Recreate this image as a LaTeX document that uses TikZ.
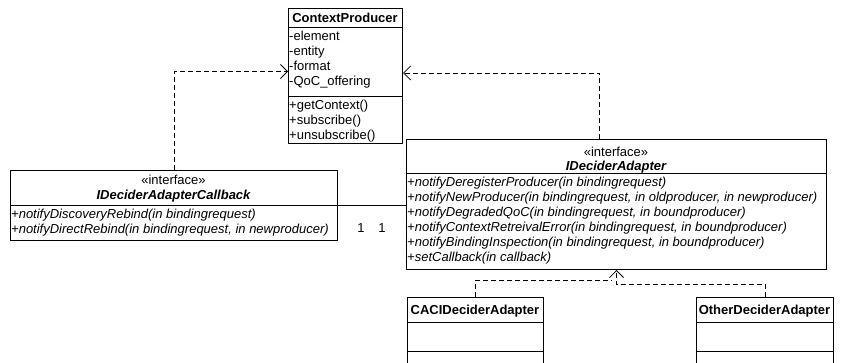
\documentclass[tikz,border=0pt]{standalone}
\usepackage{fontspec}
\setmainfont{Liberation Sans}
\usetikzlibrary{arrows.meta}
\begin{document}
\begin{tikzpicture}[x=1pt,y=1pt,
  box/.style={draw, line width=1pt, inner sep=0pt, anchor=north west},
  sep/.style={line width=1pt},
  fnt/.style={inner sep=0pt, yshift=-4.6pt, font=\fontsize{13}{15}\selectfont},
  txt/.style={fnt, anchor=base west},
  ctr/.style={fnt, anchor=base},
  ttl/.style={ctr, font=\fontsize{13}{15}\selectfont\bfseries},
  ittl/.style={ctr, font=\fontsize{13}{15}\selectfont\bfseries\itshape},
  op/.style={txt, font=\fontsize{13}{15}\selectfont\itshape},
  dep/.style={line width=0.75pt, dash pattern=on 5pt off 3pt, -{Straight Barb[length=7pt,width=14pt,line width=0.75pt]}},
  dsh/.style={line width=0.75pt, dash pattern=on 5pt off 3pt}
]
\useasboundingbox (0,0) rectangle (841,-362);

% ContextProducer
\node[box, minimum width=114pt, minimum height=135pt] (cp) at (288,-8) {};
\draw[sep] (288,-27) -- (402,-27);
\draw[sep] (288,-96) -- (402,-96);
\node[ttl] (cpt) at (345,-17.5) {ContextProducer};
\node[txt] (cpa1) at (289,-36) {-element};
\node[txt] (cpa2) at (289,-51) {-entity};
\node[txt] (cpa3) at (289,-66) {-format};
\node[txt] (cpa4) at (289,-81) {-QoC\_offering};
\node[txt] (cpm1) at (289,-105) {+getContext()};
\node[txt] (cpm2) at (289,-120) {+subscribe()};
\node[txt] (cpm3) at (289,-135) {+unsubscribe()};

% IDeciderAdapterCallback
\node[box, minimum width=327pt, minimum height=70pt] (cb) at (10,-170) {};
\draw[sep] (10,-205) -- (337,-205);
\node[ctr] (cbs) at (173.5,-180) {«interface»};
\node[ittl] (cbt) at (173.5,-194.5) {IDeciderAdapterCallback};
\node[op] (cbo1) at (11,-213.5) {+notifyDiscoveryRebind(in bindingrequest)};
\node[op] (cbo2) at (11,-228.5) {+notifyDirectRebind(in bindingrequest, in newproducer)};

% IDeciderAdapter
\node[box, minimum width=420pt, minimum height=130pt] (ida) at (406,-139) {};
\draw[sep] (406,-173) -- (826,-173);
\node[ctr] (idas) at (616,-152) {«interface»};
\node[ittl] (idat) at (616,-166) {IDeciderAdapter};
\node[op] (idao1) at (407,-181.5) {+notifyDeregisterProducer(in bindingrequest)};
\node[op] (idao2) at (407,-196.5) {+notifyNewProducer(in bindingrequest, in oldproducer, in newproducer)};
\node[op] (idao3) at (407,-211.5) {+notifyDegradedQoC(in bindingrequest, in boundproducer)};
\node[op] (idao4) at (407,-226.5) {+notifyContextRetreivalError(in bindingrequest, in boundproducer)};
\node[op] (idao5) at (407,-241.5) {+notifyBindingInspection(in bindingrequest, in boundproducer)};
\node[op] (idao6) at (407,-256.5) {+setCallback(in callback)};

% CACIDeciderAdapter
\node[box, minimum width=136pt, minimum height=90pt] (caci) at (407,-297) {};
\draw[sep] (407,-322) -- (543,-322);
\draw[sep] (407,-351) -- (543,-351);
\node[ttl] (cacit) at (475,-309.5) {CACIDeciderAdapter};

% OtherDeciderAdapter
\node[box, minimum width=137pt, minimum height=90pt] (oth) at (696,-297) {};
\draw[sep] (696,-322) -- (833,-322);
\draw[sep] (696,-351) -- (833,-351);
\node[ttl] (otht) at (764.5,-309.5) {OtherDeciderAdapter};

% dependencies
\draw[dep] (cb.north) |- ([yshift=4.5pt]cp.west);
\draw[dep] ([xshift=-17pt]ida.north) |- ([yshift=3pt]cp.east);

% association
\draw[line width=0.8pt] ([yshift=-35pt]cb.north east) -- ([yshift=-66pt]ida.north west);
\node[ctr] (m1) at (361,-227.5) {1};
\node[ctr] (m2) at (382,-227.5) {1};

% realizations
\draw[dsh] (caci.north) |- ([xshift=-5pt,yshift=-10pt]ida.south);
\draw[dep] (oth.north) |- ([yshift=-14pt]ida.south) -- (ida.south);
\end{tikzpicture}
\end{document}
